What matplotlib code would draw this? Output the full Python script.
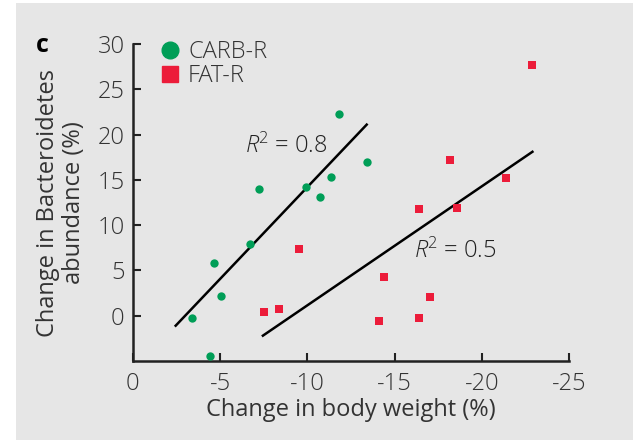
import matplotlib.pyplot as plt
from matplotlib.patches import Rectangle
from matplotlib.lines import Line2D

plt.rcParams['font.family'] = ['Open Sans', 'DejaVu Sans']
plt.rcParams['font.weight'] = 'light'
plt.rcParams['mathtext.fontset'] = 'custom'
plt.rcParams['mathtext.it'] = 'Open Sans:italic:light'
plt.rcParams['mathtext.rm'] = 'Open Sans:light'

# === Data ===
carb_x = [-3.4, -4.4, -4.65, -5.05, -6.7, -7.2, -9.9, -10.7, -11.35, -11.8, -13.4]
carb_y = [-0.2, -4.4, 5.8, 2.2, 7.9, 14.0, 14.2, 13.1, 15.3, 22.3, 17.0]

fat_x = [-7.5, -8.4, -9.5, -14.1, -14.4, -16.4, -16.4, -17.0, -18.2, -18.6, -21.4, -22.9]
fat_y = [0.4, 0.7, 7.4, -0.55, 4.3, -0.2, 11.8, 2.1, 17.2, 11.9, 15.2, 27.7]

# fit lines (end points)
carb_fit_x = [-2.45, -13.4]
carb_fit_y = [-1.1, 21.1]
fat_fit_x = [-7.45, -22.9]
fat_fit_y = [-2.2, 18.1]

x_ticks = [0, -5, -10, -15, -20, -25]
y_ticks = [0, 5, 10, 15, 20, 25, 30]

GREEN = '#009e57'
RED = '#ec1c3a'
BG = '#e6e6e6'
TXT = '#333333'

fig = plt.figure(figsize=(6.33, 4.4), dpi=100)
fig.patch.set_facecolor('white')
fig.patches.append(Rectangle((16 / 633, 0), 1, 437 / 440, transform=fig.transFigure,
                             facecolor=BG, edgecolor='none', zorder=-10))

ax = fig.add_axes([0.210, 0.1795, 0.689, 0.7205])
ax.set_facecolor('none')

ax.plot(carb_fit_x, carb_fit_y, color='black', lw=1.8, zorder=2)
ax.plot(fat_fit_x, fat_fit_y, color='black', lw=1.8, zorder=2)
ax.scatter(carb_x, carb_y, s=36, color=GREEN, marker='o', zorder=3, linewidths=0)
ax.scatter(fat_x, fat_y, s=36, color=RED, marker='s', zorder=3, linewidths=0)

ax.set_xlim(0, -25)
ax.set_ylim(-5, 30)
ax.set_xticks(x_ticks)
ax.set_xticklabels([str(v) for v in x_ticks])
ax.set_yticks(y_ticks)

for s in ['top', 'right']:
    ax.spines[s].set_visible(False)
for s in ['left', 'bottom']:
    ax.spines[s].set_linewidth(1.8)
    ax.spines[s].set_color('#222222')
ax.tick_params(direction='in', length=6, width=1.5, labelsize=17, colors='#222222',
               labelcolor=TXT, pad=8)
ax.tick_params(axis='y', pad=6)

ax.set_xlabel('Change in body weight (%)', fontsize=17, color=TXT, labelpad=1)
ax.set_ylabel('Change in Bacteroidetes\nabundance (%)', fontsize=17, color=TXT,
              labelpad=8, linespacing=1.15)

ax.text(-6.4, 18.0, r'$\it{R}$$^2$ = 0.8', fontsize=17, color='#222222')
ax.text(-16.1, 6.4, r'$\it{R}$$^2$ = 0.5', fontsize=17, color='#222222')

handles = [Line2D([], [], marker='o', color=GREEN, ls='none', markersize=12),
           Line2D([], [], marker='s', color=RED, ls='none', markersize=11)]
ax.legend(handles, ['CARB-R', 'FAT-R'], loc='upper left', bbox_to_anchor=(0.01, 1.08),
          frameon=False, fontsize=17, handletextpad=0.25, labelspacing=0.0,
          labelcolor=TXT, handlelength=1.0)

fig.text(36 / 633, 1 - 46 / 440, 'c', fontsize=18, fontweight='bold', va='center', ha='left')

fig.savefig('out.png', dpi=100)
